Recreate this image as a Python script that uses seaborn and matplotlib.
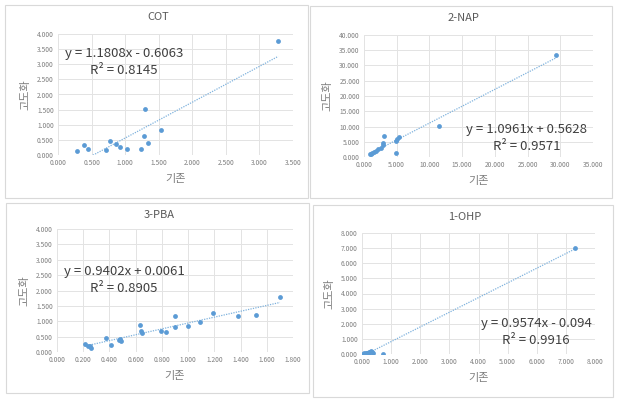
import numpy as np
import matplotlib
matplotlib.use("Agg")
import matplotlib.pyplot as plt
from matplotlib.patches import Rectangle
import seaborn as sns
import pandas as pd

sns.set_style("white")
plt.rcParams['font.family'] = ['Noto Sans CJK KR', 'DejaVu Sans']

# values
cot_x = [0.29, 0.39, 0.44, 0.72, 0.77, 0.87, 0.92, 1.03, 1.24, 1.28, 1.29, 1.34, 1.53, 3.28]
cot_y = [0.13, 0.33, 0.19, 0.18, 0.45, 0.36, 0.25, 0.21, 0.21, 0.64, 1.52, 0.41, 0.84, 3.78]

nap_x = [0.87, 1.02, 1.27, 1.53, 1.84, 2.2, 2.6, 2.86, 2.96, 3.1, 4.85, 4.9, 5.0, 5.3, 11.5, 29.4]
nap_y = [0.9, 1.1, 1.4, 1.7, 2.1, 2.5, 3.1, 3.8, 4.5, 7.0, 5.4, 1.2, 5.9, 6.5, 10.2, 33.6]

pba_x = [0.21, 0.24, 0.25, 0.26, 0.37, 0.41, 0.47, 0.48, 0.49, 0.63, 0.64, 0.65,
         0.79, 0.83, 0.90, 0.90, 1.00, 1.09, 1.19, 1.38, 1.52, 1.70]
pba_y = [0.27, 0.21, 0.18, 0.14, 0.47, 0.23, 0.40, 0.42, 0.35, 0.88, 0.68, 0.62,
         0.68, 0.65, 1.16, 0.80, 0.83, 0.98, 1.26, 1.18, 1.21, 1.80]

ohp_x = [0.05, 0.08, 0.10, 0.13, 0.16, 0.19, 0.22, 0.25, 0.28, 0.30, 0.34, 0.38, 0.72, 7.32]
ohp_y = [0.02, 0.04, 0.03, 0.06, 0.05, 0.09, 0.07, 0.12, 0.16, 0.22, 0.14, 0.08, 0.02, 7.00]

titles = ["COT", "2-NAP", "3-PBA", "1-OHP"]
eq_lines = ["y = 1.1808x - 0.6063", "y = 1.0961x + 0.5628",
            "y = 0.9402x + 0.0061", "y = 0.9574x - 0.094"]
r2_lines = ["R² = 0.8145", "R² = 0.9571", "R² = 0.8905", "R² = 0.9916"]
x_lims = [(0, 3.5, 0.5), (0, 35, 5), (0, 1.8, 0.2), (0, 8, 1)]
y_lims = [(0, 4, 0.5), (0, 40, 5), (0, 4, 0.5), (0, 8, 1)]

W, H = 621, 403
fig = plt.figure(figsize=(W / 100, H / 100), dpi=100)

def fx(px):
    return px / W

def fy(py):
    return 1 - py / H

# pixel layout: panel box, plot area, eq pos
boxes = [(5, 5, 308, 198), (310, 6, 612, 198), (6, 203, 309, 393), (313, 205, 613, 397)]
areas = [(58, 34, 293, 155), (364, 35, 593, 157), (57, 229, 293, 352), (362, 233, 595, 354)]
eq_pos = [(124, 53, 71), (527, 130, 147), (124, 272, 288), (536, 323, 340)]

blue = "#5b9bd5"
data = [(cot_x, cot_y), (nap_x, nap_y), (pba_x, pba_y), (ohp_x, ohp_y)]

for i in range(4):
    bx0, by0, bx1, by1 = boxes[i]
    fig.patches.append(Rectangle((fx(bx0), fy(by1)), fx(bx1 - bx0), (by1 - by0) / H,
                                 transform=fig.transFigure, fill=False,
                                 edgecolor="#d9d9d9", linewidth=0.8))
    ax0, ay0, ax1, ay1 = areas[i]
    ax = fig.add_axes([fx(ax0), fy(ay1), fx(ax1 - ax0), (ay1 - ay0) / H])
    df = pd.DataFrame({"x": data[i][0], "y": data[i][1]})
    sns.regplot(data=df, x="x", y="y", ax=ax, ci=None,
                scatter_kws=dict(s=12, color=blue, linewidths=0, alpha=1, zorder=3),
                line_kws=dict(color="#7fb2dd", linestyle=(0, (1, 1)), linewidth=0.9, zorder=2))
    xa, xb, xs = x_lims[i]
    ya, yb, ys = y_lims[i]
    ax.set_xlim(xa, xb)
    ax.set_ylim(ya, yb)
    ax.set_xticks(np.arange(xa, xb + xs / 2, xs))
    ax.set_yticks(np.arange(ya, yb + ys / 2, ys))
    ax.set_xticklabels([f"{v:.3f}" for v in ax.get_xticks()])
    ax.set_yticklabels([f"{v:.3f}" for v in ax.get_yticks()])
    ax.tick_params(labelsize=4.8, colors="#7f7f7f", length=0, pad=3)
    ax.grid(True, color="#e3e3e3", linewidth=0.7)
    ax.set_axisbelow(True)
    for s in ax.spines.values():
        s.set_visible(False)
    ax.set_xlabel("기존", fontsize=8, color="#7f7f7f", labelpad=5)
    ax.set_ylabel("고도화", fontsize=8, color="#7f7f7f", labelpad=5)
    fig.text(fx((bx0 + bx1) / 2 + 2), fy(by0 + 12), titles[i], fontsize=8,
             color="#595959", ha="center", va="center")
    ex, ey1, ey2 = eq_pos[i]
    fig.text(fx(ex), fy(ey1), eq_lines[i], fontsize=9.5, color="#404040", ha="center", va="center")
    fig.text(fx(ex), fy(ey2), r2_lines[i], fontsize=9.5, color="#404040", ha="center", va="center")

fig.savefig("out.png", dpi=100)
